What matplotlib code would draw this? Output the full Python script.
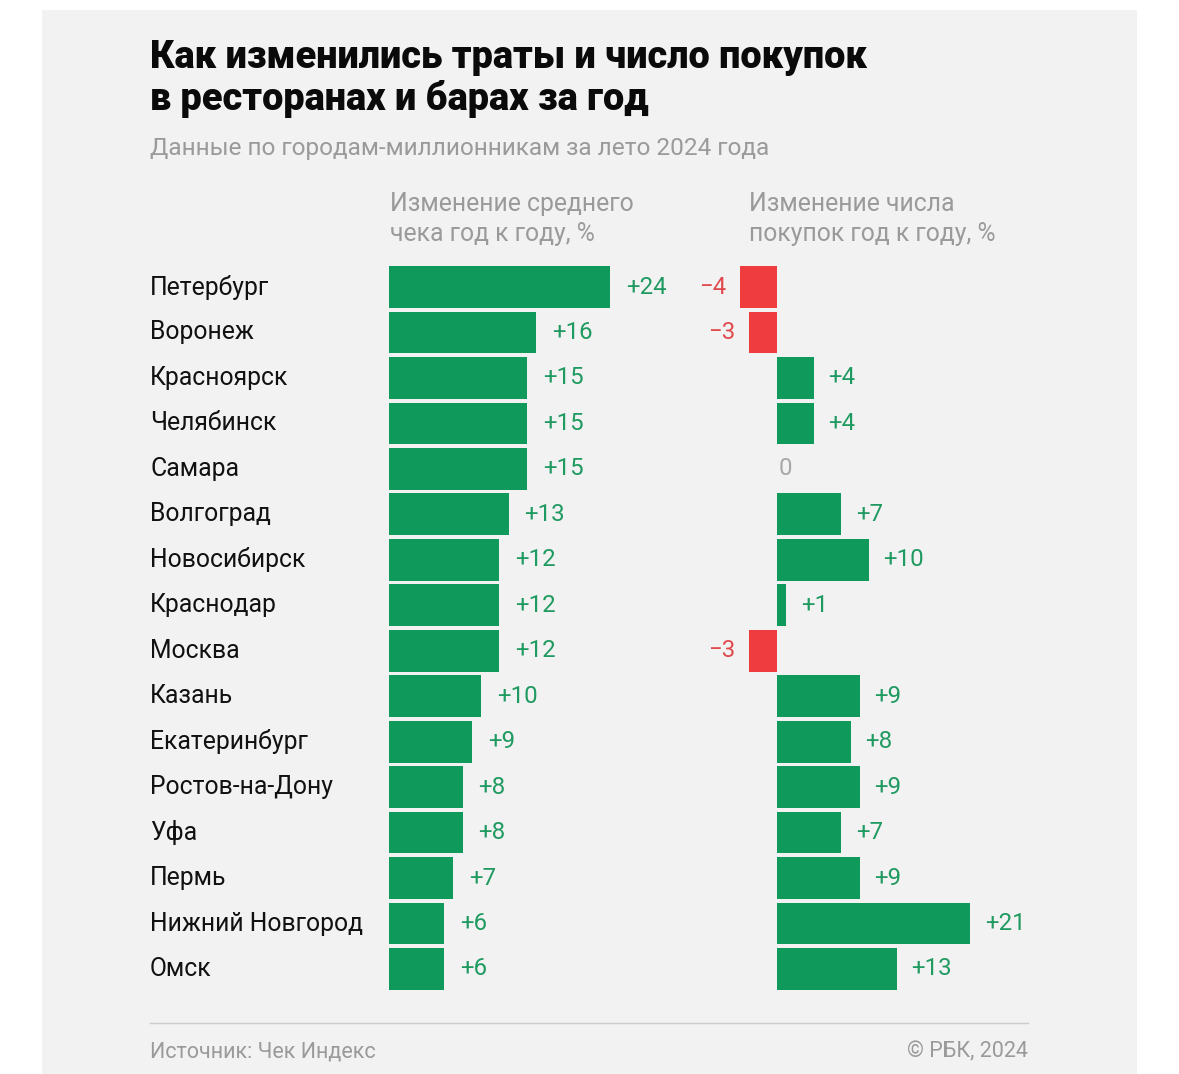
import matplotlib.pyplot as plt
import matplotlib.patches as patches
from matplotlib.transforms import blended_transform_factory

plt.rcParams['font.family'] = ['Roboto', 'DejaVu Sans']

# Data
cities = ["Петербург", "Воронеж", "Красноярск", "Челябинск", "Самара",
          "Волгоград", "Новосибирск", "Краснодар", "Москва", "Казань",
          "Екатеринбург", "Ростов-на-Дону", "Уфа", "Пермь",
          "Нижний Новгород", "Омск"]
avg_check = [24, 16, 15, 15, 15, 13, 12, 12, 12, 10, 9, 8, 8, 7, 6, 6]
purchases = [-4, -3, 4, 4, 0, 7, 10, 1, -3, 9, 8, 9, 7, 9, 21, 13]

title = "Как изменились траты и число покупок\nв ресторанах и барах за год"
subtitle = "Данные по городам-миллионникам за лето 2024 года"
head_left = "Изменение среднего\nчека год к году, %"
head_right = "Изменение числа\nпокупок год к году, %"
source = "Источник: Чек Индекс"
credit = "© РБК, 2024"

GREEN = "#0f9a5b"
RED = "#ef3d3f"
GREEN_TXT = "#1f9a60"
RED_TXT = "#e04a4d"
GRAY = "#9a9a9a"

W, H = 1179, 1074
fig = plt.figure(figsize=(W / 100, H / 100), dpi=100, facecolor="white")

def fx(px):
    return px / W

def fy(py):
    return 1 - py / H

# gray card
fig.patches.append(patches.Rectangle((fx(42), fy(1074)), fx(1137 - 42), (1074 - 10) / H,
                                     transform=fig.transFigure, facecolor="#f2f2f2",
                                     edgecolor="none", zorder=-10))

scale = 9.2  # px per percent
row_top, row_bot = 264.3, 991.7
n = len(cities)

# left panel: axis from x=389 to 720
lx0, lx1 = 389, 720
ax1 = fig.add_axes([fx(lx0), fy(row_bot), fx(lx1 - lx0), (row_bot - row_top) / H])
ax1.set_xlim(0, (lx1 - lx0) / scale)
# right panel: zero at 777
rx0, rx1, rzero = 690, 1100, 777
ax2 = fig.add_axes([fx(rx0), fy(row_bot), fx(rx1 - rx0), (row_bot - row_top) / H])
ax2.set_xlim(-(rzero - rx0) / scale, (rx1 - rzero) / scale)

for ax in (ax1, ax2):
    ax.set_ylim(n - 0.5, -0.5)
    ax.axis("off")
    ax.patch.set_alpha(0)

ypos = list(range(n))
ax1.barh(ypos, avg_check, height=0.92, color=GREEN)
for y, v in zip(ypos, avg_check):
    ax1.annotate(f"+{v}", (v, y), xytext=(11.5, 0), textcoords="offset points",
                 ha="left", va="center", fontsize=17.3, color=GREEN_TXT)

colors = [GREEN if v >= 0 else RED for v in purchases]
ax2.barh(ypos, purchases, height=0.92, color=colors)
for y, v in zip(ypos, purchases):
    if v > 0:
        ax2.annotate(f"+{v}", (v, y), xytext=(10.5, 0), textcoords="offset points",
                     ha="left", va="center", fontsize=17.3, color=GREEN_TXT)
    elif v < 0:
        ax2.annotate(f"\u2212{-v}", (v, y), xytext=(-10, 0), textcoords="offset points",
                     ha="right", va="center", fontsize=17.3, color=RED_TXT)
    else:
        ax2.annotate("0", (v, y), xytext=(1.5, 0), textcoords="offset points",
                     ha="left", va="center", fontsize=17.3, color="#a8a8a8")

# city names
tr = blended_transform_factory(fig.transFigure, ax1.transData)
for y, c in zip(ypos, cities):
    ax1.text(fx(150), y, c, transform=tr, ha="left", va="center",
             fontsize=17.8, color="#111111")

# texts
fig.text(fx(150), fy(39), title, ha="left", va="top", fontsize=27.3,
         fontweight="heavy", color="#0a0a0a", linespacing=1.13)
fig.text(fx(150), fy(149), subtitle, ha="left", va="center", fontsize=17.6, color=GRAY)
fig.text(fx(390), fy(219), head_left, ha="left", va="center", fontsize=17.8,
         color=GRAY, linespacing=1.32)
fig.text(fx(749), fy(219), head_right, ha="left", va="center", fontsize=17.8,
         color=GRAY, linespacing=1.32)

fig.add_artist(plt.Line2D([fx(150), fx(1028)], [fy(1023), fy(1023)],
                          transform=fig.transFigure, color="#cccccc", linewidth=1))
fig.text(fx(150), fy(1052), source, ha="left", va="center", fontsize=15.5, color=GRAY)
fig.text(fx(1028), fy(1052), credit, ha="right", va="center", fontsize=15.5, color=GRAY)

fig.savefig("out.png", dpi=100, facecolor="white")
